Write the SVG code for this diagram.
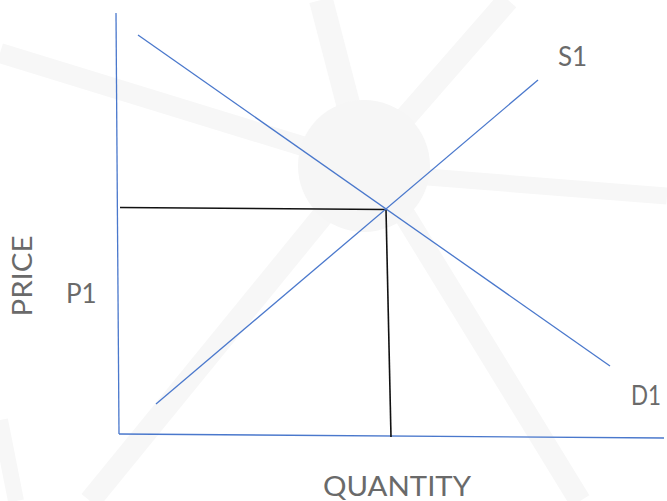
<svg xmlns="http://www.w3.org/2000/svg" width="667" height="501" viewBox="0 0 667 501">
<style>
.wm{stroke:#f7f7f7;fill:none;stroke-linecap:butt}
.blue{stroke:#4a78cc;stroke-width:1.3;fill:none}
.blk{stroke:#111;stroke-width:1.6;fill:none}
.lbl{font-family:Lato,"Open Sans","Liberation Sans",sans-serif;font-size:26px;fill:#6a6a6a}
</style>
<rect width="667" height="501" fill="#ffffff"/>
<g id="watermark">
<line class="wm" x1="0" y1="53" x2="364" y2="165" stroke-width="20"/>
<line class="wm" x1="364" y1="172" x2="667" y2="196" stroke-width="17"/>
<line class="wm" x1="321" y1="0" x2="364" y2="165" stroke-width="24"/>
<line class="wm" x1="508" y1="0" x2="364" y2="165" stroke-width="22"/>
<line class="wm" x1="364" y1="165" x2="90" y2="501" stroke-width="22"/>
<line class="wm" x1="374" y1="165" x2="580" y2="501" stroke-width="22"/>
<line class="wm" x1="0" y1="420" x2="16" y2="501" stroke-width="16"/>
<circle cx="364" cy="166" r="66" fill="#f6f6f6"/>
</g>
<g id="axes">
<line class="blue" x1="116" y1="13" x2="119" y2="434"/>
<line class="blue" x1="119" y1="434" x2="664" y2="438"/>
</g>
<g id="connectors">
<line class="blk" x1="120" y1="207.5" x2="386" y2="209.5"/>
<line class="blk" x1="386" y1="209.5" x2="391" y2="437"/>
</g>
<g id="demand">
<line class="blue" x1="138" y1="35" x2="610" y2="366"/>
</g>
<g id="supply">
<line class="blue" x1="156" y1="404" x2="538" y2="80"/>
</g>
<g id="labels">
<text class="lbl" x="558" y="66">S1</text>
<text class="lbl" x="631" y="405" textLength="30" lengthAdjust="spacingAndGlyphs">D1</text>
<text class="lbl" x="66" y="303">P1</text>
<text class="lbl" transform="translate(32,276) rotate(-90)" text-anchor="middle" textLength="81" lengthAdjust="spacingAndGlyphs">PRICE</text>
<text class="lbl" x="323" y="496" textLength="148" lengthAdjust="spacingAndGlyphs">QUANTITY</text>
</g>
</svg>
